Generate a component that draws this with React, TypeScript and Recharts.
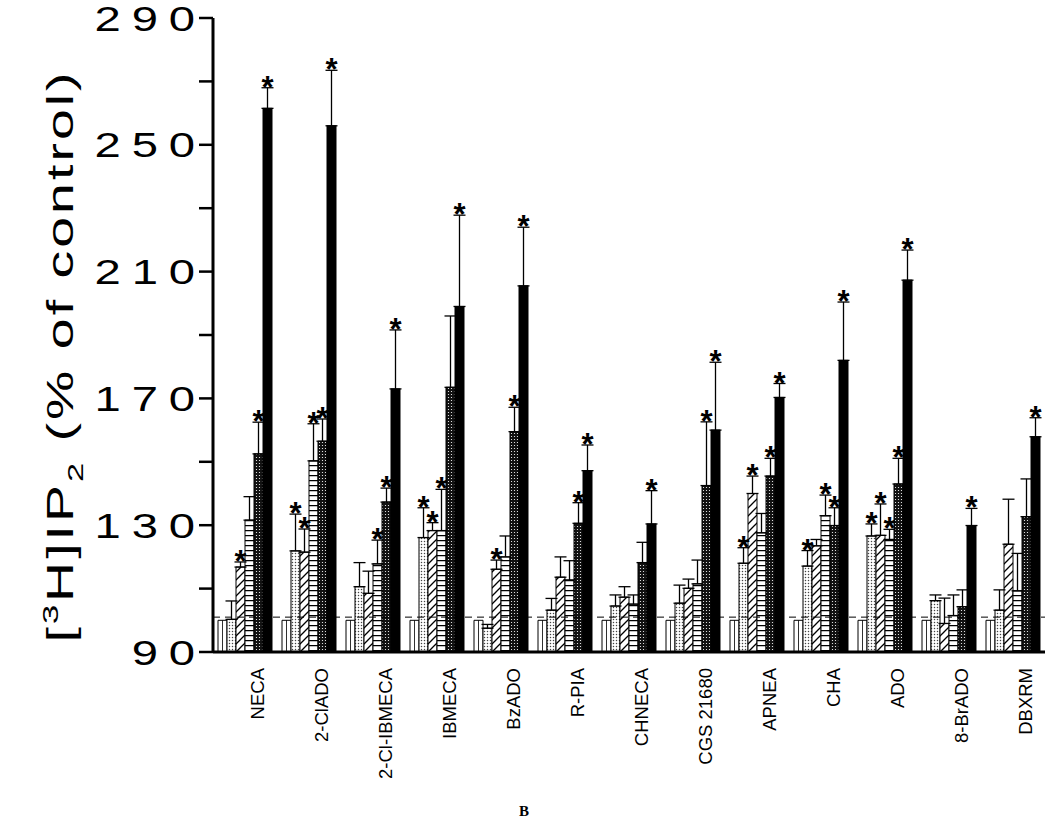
import { BarChart, Bar, XAxis, YAxis, ErrorBar, ReferenceLine } from "recharts";

const categories = [
  "NECA", "2-ClADO", "2-Cl-IBMECA", "IBMECA", "BzADO", "R-PIA", "CHNECA",
  "CGS 21680", "APNEA", "CHA", "ADO", "8-BrADO", "DBXRM",
];

const controlValues = [100, 100, 100, 100, 100, 100, 100, 100, 100, 100, 100, 100, 100];
const dose1Values = [100.3, 121.9, 110.6, 126.1, 97.5, 103.2, 104.5, 105.4, 118, 117.1, 126.6, 106.2, 103.2];
const dose1Errors = [5.8, 11.6, 7.6, 9.4, 1.2, 3.7, 3.5, 5.7, 4.9, 4.9, 3.8, 1.8, 6.4];
const dose2Values = [116.8, 121.5, 108.5, 128.3, 116.1, 113.6, 107.3, 110.1, 140, 123.5, 126.8, 99, 124];
const dose2Errors = [1.6, 7.3, 7, 2.5, 2.9, 6.4, 3.3, 2.9, 5.5, 2, 9.9, 8, 14.2];
const dose3Values = [131.6, 150.3, 117.8, 128.3, 120, 112.7, 105.1, 111.5, 127.6, 133, 125.5, 101.5, 109.3];
const dose3Errors = [7.4, 11.7, 7.5, 13, 6.6, 6.1, 2.9, 7.5, 6.1, 6.5, 3.2, 6.5, 11.8];
const dose4Values = [152.5, 156.5, 137.3, 173.5, 159.5, 130.6, 118.2, 142.5, 145.5, 129.9, 143, 104.3, 132.7];
const dose4Errors = [10, 7, 4.4, 22.5, 7.7, 6.5, 6.4, 20.1, 5.6, 5.6, 8.1, 5.3, 11.9];
const dose5Values = [261.5, 256, 173, 199, 205.5, 147.2, 130.4, 160, 170.3, 182, 207.3, 129.9, 157.9];
const dose5Errors = [6.5, 17.5, 18.6, 28.8, 18.5, 8.1, 10.5, 21.4, 4.4, 18.4, 9.5, 5.4, 6];

// 1 = significant (asterisk)
const dose1Signif = [0, 1, 0, 1, 0, 0, 0, 0, 1, 1, 1, 0, 0];
const dose2Signif = [1, 1, 0, 1, 1, 0, 0, 0, 1, 0, 1, 0, 0];
const dose3Signif = [0, 1, 1, 1, 0, 0, 0, 0, 0, 1, 1, 0, 0];
const dose4Signif = [1, 1, 1, 0, 1, 1, 0, 1, 1, 1, 1, 0, 0];
const dose5Signif = [1, 1, 1, 1, 1, 1, 1, 1, 1, 1, 1, 1, 1];

const yTicks = [90, 110, 130, 150, 170, 190, 210, 230, 250, 270, 290];
const yLabeled = [90, 130, 170, 210, 250, 290];
const controlLevel = 101;

const Y_MIN = 90;
const Y_MAX = 290;
const FONT = "'Liberation Sans', Arial, sans-serif";

const table = categories.map((name, i) => ({
  name,
  ctrl: controlValues[i],
  d1: dose1Values[i],
  d1e: [0, dose1Errors[i]],
  d2: dose2Values[i],
  d2e: [0, dose2Errors[i]],
  d3: dose3Values[i],
  d3e: [0, dose3Errors[i]],
  d4: dose4Values[i],
  d4e: [0, dose4Errors[i]],
  d5: dose5Values[i],
  d5e: [0, dose5Errors[i]],
}));

const series = [
  { key: "d1", fill: "url(#dots)", vals: dose1Values, errs: dose1Errors, sig: dose1Signif },
  { key: "d2", fill: "url(#hatch)", vals: dose2Values, errs: dose2Errors, sig: dose2Signif },
  { key: "d3", fill: "url(#hlines)", vals: dose3Values, errs: dose3Errors, sig: dose3Signif },
  { key: "d4", fill: "url(#darkdots)", vals: dose4Values, errs: dose4Errors, sig: dose4Signif },
  { key: "d5", fill: "#000", vals: dose5Values, errs: dose5Errors, sig: dose5Signif },
];

function starLabel(vals: number[], errs: number[], sig: number[]) {
  return (props: any) => {
    const vb = props.viewBox || {};
    const x = props.x ?? vb.x;
    const y = props.y ?? vb.y;
    const width = props.width ?? vb.width;
    const height = props.height ?? vb.height;
    const i = props.index;
    if (i == null || !sig[i]) return <g />;
    const ppu = Math.abs(height) / (vals[i] - Y_MIN);
    const capY = y - errs[i] * ppu;
    return (
      <text
        x={x + width / 2}
        y={capY + 10}
        textAnchor="middle"
        fontSize={31}
        fontWeight="bold"
        fontFamily={FONT}
        fill="#000"
      >
        *
      </text>
    );
  };
}

function YTick({ x, y, payload }: any) {
  if (!yLabeled.includes(payload.value)) return <g />;
  return (
    <text
      transform={`translate(${x},${y}) scale(1.35,1)`}
      x={8}
      dy="0.36em"
      textAnchor="end"
      fontSize={35}
      letterSpacing={8}
      fontFamily={FONT}
      fill="#000"
    >
      {payload.value}
    </text>
  );
}

function XTick({ x, y, payload }: any) {
  return (
    <text
      transform={`translate(${x + 13},${y}) rotate(-90)`}
      dy="0.35em"
      textAnchor="end"
      fontSize={18.5}
      fontFamily={FONT}
      fill="#000"
    >
      {payload.value}
    </text>
  );
}

function YLabel() {
  return (
    <text
      transform="translate(73,356) rotate(-90) scale(1.5,1)"
      textAnchor="middle"
      fontSize={37}
      letterSpacing={2}
      fontFamily={FONT}
      fill="#000"
    >
      <tspan>[</tspan>
      <tspan fontSize={23} dy={-15}>3</tspan>
      <tspan dy={15}>H]IP</tspan>
      <tspan fontSize={23} dy={10}>2</tspan>
      <tspan dy={-10}> (% of control)</tspan>
    </text>
  );
}

export default function App() {
  return (
    <div style={{ position: "absolute", left: 0, top: 0, width: 1050, height: 827, background: "#fff" }}>
      <BarChart
        width={1050}
        height={827}
        data={table}
        margin={{ top: 18, right: 5, left: 0, bottom: 0 }}
        barSize={9}
        barGap={0}
      >
        <defs>
          <pattern id="vline" patternUnits="objectBoundingBox" patternContentUnits="objectBoundingBox" width={1} height={1}>
            <rect x={0} y={0} width={1} height={1} fill="#fff" />
            <rect x={0.46} y={0} width={0.09} height={1} fill="#000" />
          </pattern>
          <pattern id="dots" patternUnits="userSpaceOnUse" width={3} height={3}>
            <rect width={3} height={3} fill="#fff" />
            <circle cx={1.5} cy={1.5} r={0.75} fill="#444" />
          </pattern>
          <pattern id="hatch" patternUnits="userSpaceOnUse" width={8} height={8}>
            <rect width={8} height={8} fill="#fff" />
            <path d="M0,8 L8,0 M-2,2 L2,-2 M6,10 L10,6" stroke="#000" strokeWidth={1.3} />
          </pattern>
          <pattern id="hlines" patternUnits="userSpaceOnUse" width={8} height={5}>
            <rect width={8} height={5} fill="#fff" />
            <line x1={0} y1={0.6} x2={8} y2={0.6} stroke="#000" strokeWidth={1.3} />
          </pattern>
          <pattern id="darkdots" patternUnits="userSpaceOnUse" width={3} height={3}>
            <rect width={3} height={3} fill="#111" />
            <circle cx={1.5} cy={1.5} r={0.6} fill="#fff" />
          </pattern>
        </defs>
        <XAxis
          dataKey="name"
          type="category"
          height={175}
          interval={0}
          tickLine={false}
          tickSize={0}
          tickMargin={16}
          axisLine={{ stroke: "#000", strokeWidth: 3 }}
          tick={<XTick />}
        />
        <YAxis
          type="number"
          domain={[Y_MIN, Y_MAX]}
          ticks={yTicks}
          width={213}
          tickSize={14}
          tickMargin={4}
          allowDataOverflow
          axisLine={{ stroke: "#000", strokeWidth: 3 }}
          tickLine={{ stroke: "#000", strokeWidth: 2.5 }}
          tick={<YTick />}
          label={<YLabel />}
        />
        <ReferenceLine y={controlLevel} stroke="#000" strokeWidth={1} strokeDasharray="7 5" />
        <Bar dataKey="ctrl" fill="url(#vline)" stroke="#000" strokeWidth={1} isAnimationActive={false} />
        {series.map((s) => (
          <Bar
            key={s.key}
            dataKey={s.key}
            fill={s.fill}
            stroke="#000"
            strokeWidth={1}
            isAnimationActive={false}
            label={starLabel(s.vals, s.errs, s.sig)}
          >
            <ErrorBar dataKey={`${s.key}e`} width={6} stroke="#000" strokeWidth={1.3} direction="y" />
          </Bar>
        ))}
      </BarChart>
      <div
        style={{
          position: "absolute",
          left: 519,
          top: 803,
          fontFamily: "'Liberation Serif', serif",
          fontSize: 15,
          fontWeight: "bold",
        }}
      >
        B
      </div>
    </div>
  );
}
